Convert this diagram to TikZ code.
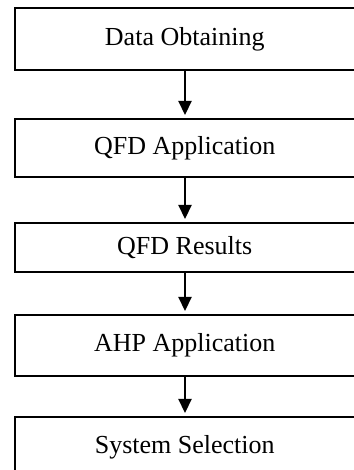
\documentclass[tikz,border=0pt]{standalone}
\usepackage{fontspec}
\setmainfont{Liberation Serif}
\usetikzlibrary{arrows.meta,positioning}

\tikzset{
    stage/.style={draw=black, line width=2pt, minimum width=343pt, inner sep=0pt,
        font=\fontsize{26}{30}\selectfont},
    flow/.style={-{Triangle[width=13pt,length=14pt]}, line width=2.2pt, shorten >=3pt}
}

\begin{document}
\begin{tikzpicture}[x=1pt,y=1pt]
    \useasboundingbox (0,0) rectangle (353,470);

    % Stages
    \node[stage, minimum height=62pt] (data) at (186.5,431) {\hspace{-3.5pt}Data Obtaining};
    \node[stage, minimum height=58pt] (qfdapp) at (186.5,322) {\hspace{-3.5pt}QFD Application};
    \node[stage, minimum height=49pt] (qfdres) at (186.5,222.5) {\hspace{-3.5pt}QFD Results};
    \node[stage, minimum height=61pt] (ahpapp) at (186.5,124.5) {\hspace{-3.5pt}AHP Application};
    \node[stage, minimum height=61pt] (select) at (186.5,22.5) {\hspace{-3.5pt}System Selection};

    % Arrows
    \draw[flow] ([xshift=-1.5pt]data.south) -- ([xshift=-1.5pt]qfdapp.north);
    \draw[flow] ([xshift=-1.5pt]qfdapp.south) -- ([xshift=-1.5pt]qfdres.north);
    \draw[flow] ([xshift=-1.5pt]qfdres.south) -- ([xshift=-1.5pt]ahpapp.north);
    \draw[flow] ([xshift=-1.5pt]ahpapp.south) -- ([xshift=-1.5pt]select.north);
\end{tikzpicture}
\end{document}
